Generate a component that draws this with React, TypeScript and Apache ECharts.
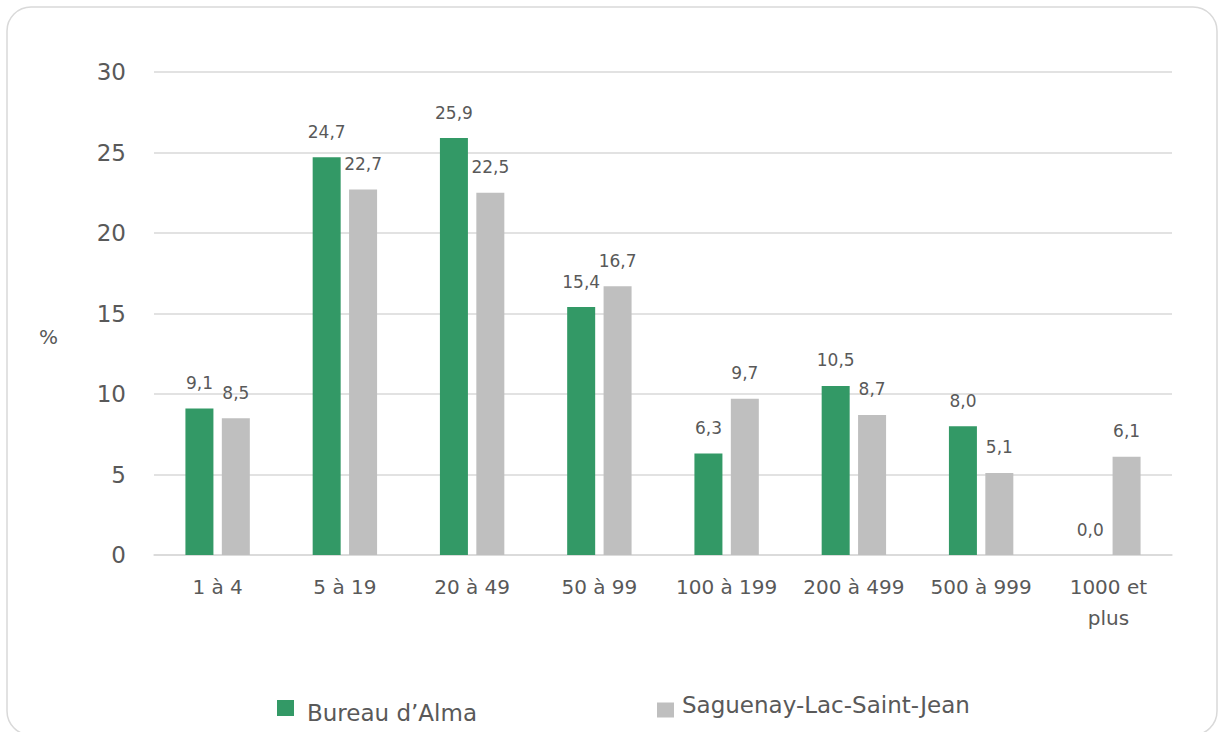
import React, { useEffect, useRef } from "react";
import * as echarts from "echarts";

const categories = ["1 à 4", "5 à 19", "20 à 49", "50 à 99", "100 à 199", "200 à 499", "500 à 999", "1000 et plus"];
const almaValues = [9.1, 24.7, 25.9, 15.4, 6.3, 10.5, 8.0, 0.0];
const regionValues = [8.5, 22.7, 22.5, 16.7, 9.7, 8.7, 5.1, 6.1];
const seriesNames = ["Bureau d’Alma", "Saguenay-Lac-Saint-Jean"];
const yTicks = { min: 0, max: 30, interval: 5 };
const yAxisTitle = "%";

const FONT = "DejaVu Sans";
const TEXT = "#595959";
const GREEN = "#339966";
const GREY = "#bfbfbf";
const GRIDC = "#d9d9d9";

const fmt = (p: any) => Number(p.value).toFixed(1).replace(".", ",");

export default function App() {
  const ref = useRef<HTMLDivElement>(null);
  useEffect(() => {
    if (!ref.current) return;
    const chart = echarts.init(ref.current, null, { renderer: "svg" });
    const label = {
      show: true,
      position: "top",
      distance: 17,
      formatter: fmt,
      fontFamily: FONT,
      fontSize: 17,
      color: TEXT,
    };
    const legendRich = (lh: number) => ({
      t: { fontFamily: FONT, fontSize: 23, color: TEXT, lineHeight: lh },
    });
    chart.setOption({
      animation: false,
      backgroundColor: "#ffffff",
      textStyle: { fontFamily: FONT },
      grid: { left: 154, right: 46, top: 72, bottom: 177, containLabel: false },
      graphic: [
        {
          type: "rect",
          shape: { x: 7, y: 7, width: 1210, height: 728, r: 24 },
          style: { fill: "none", stroke: GRIDC, lineWidth: 1.5 },
          z: -10,
        },
        {
          type: "text",
          x: 39,
          y: 337,
          style: { text: yAxisTitle, font: `20px "${FONT}"`, fill: TEXT, verticalAlign: "middle" },
        },
      ],
      legend: [
        {
          data: [seriesNames[0]],
          left: 277,
          top: 700,
          padding: 0,
          icon: "rect",
          itemWidth: 17,
          itemHeight: 16,
          formatter: (n: string) => `{t|${n}}`,
          textStyle: {
            fontFamily: FONT,
            fontSize: 23,
            color: TEXT,
            padding: [10, 0, 0, 8],
            rich: legendRich(16),
          },
        },
        {
          data: [seriesNames[1]],
          left: 657,
          top: 693,
          padding: 0,
          icon: "rect",
          itemWidth: 17,
          itemHeight: 15,
          formatter: (n: string) => `{t|${n}}`,
          textStyle: {
            fontFamily: FONT,
            fontSize: 23,
            color: TEXT,
            padding: [0, 0, 11, 3],
            rich: legendRich(15),
          },
        },
      ],
      xAxis: {
        type: "category",
        data: categories,
        axisLine: { lineStyle: { color: GRIDC, width: 1.5 } },
        axisTick: { show: false },
        axisLabel: {
          fontFamily: FONT,
          fontSize: 20,
          color: TEXT,
          margin: 16,
          lineHeight: 31,
          interval: 0,
          formatter: (v: string) => v.replace(" et ", " et\n"),
        },
      },
      yAxis: {
        type: "value",
        min: yTicks.min,
        max: yTicks.max,
        interval: yTicks.interval,
        axisLine: { show: false },
        axisTick: { show: false },
        splitLine: { lineStyle: { color: GRIDC, width: 1.5 } },
        axisLabel: { fontFamily: FONT, fontSize: 23, color: TEXT, margin: 28 },
      },
      series: [
        {
          name: seriesNames[0],
          type: "bar",
          data: almaValues,
          barWidth: 28,
          barGap: "30%",
          itemStyle: { color: GREEN },
          label,
        },
        {
          name: seriesNames[1],
          type: "bar",
          data: regionValues,
          barWidth: 28,
          barGap: "30%",
          itemStyle: { color: GREY },
          label,
        },
      ],
    });
    return () => chart.dispose();
  }, []);
  return (
    <div
      ref={ref}
      style={{ position: "absolute", left: 0, top: 0, width: 1218, height: 732, background: "#fff" }}
    />
  );
}
